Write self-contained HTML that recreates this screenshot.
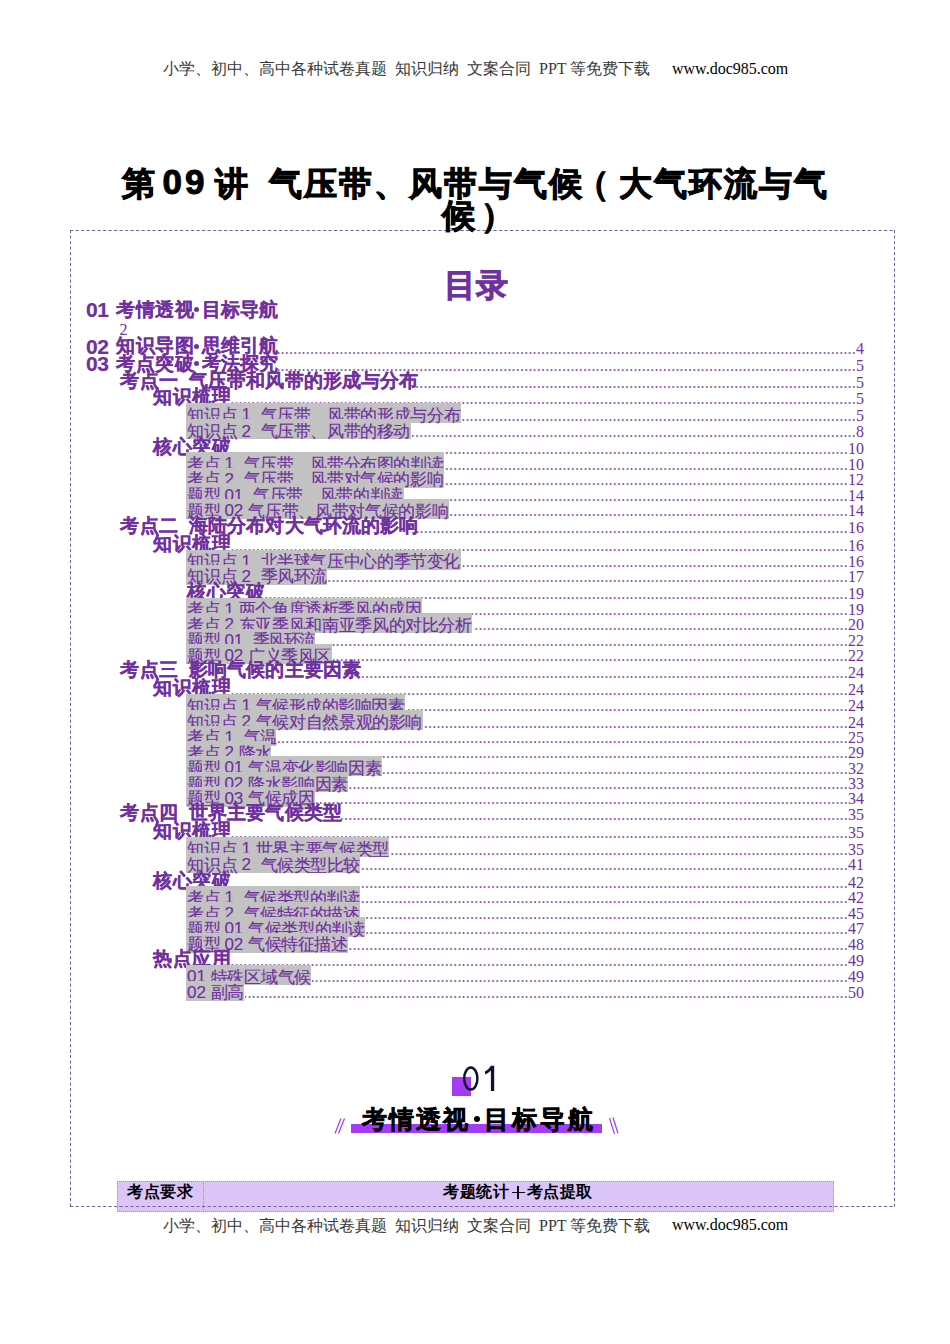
<!DOCTYPE html>
<html><head><meta charset="utf-8"><style>
html,body{margin:0;padding:0;background:#fff;width:950px;height:1344px;overflow:hidden;position:relative}
.t{position:absolute;white-space:pre;font-family:'Liberation Sans',sans-serif}
.g{position:absolute;background:#c2c2c2}
.d{position:absolute;overflow:hidden;white-space:nowrap;direction:rtl;font-family:'Liberation Serif',serif;font-size:16px;line-height:16px;color:#8658b0;height:18px;letter-spacing:0.2px}
.n{position:absolute;font-family:'Liberation Serif',serif;font-size:16px;line-height:16px;color:#7030a0;white-space:pre}
.tb{font-weight:bold;-webkit-text-stroke:1px #000;z-index:2}
.bs{-webkit-text-stroke:0.2px #7030a0}
.rs{-webkit-text-stroke:0.15px #7030a0}
.bk{-webkit-text-stroke:0.6px #000}
.dot{position:absolute;width:5px;height:5px;border-radius:50%;background:#7030a0}
.hdr{position:absolute;white-space:pre;font-family:'Liberation Serif',serif;font-size:16px;line-height:16px;color:#383838}
</style></head><body>
<div class="hdr" style="left:163px;top:61px">小学、初中、高中各种试卷真题&nbsp; 知识归纳&nbsp; 文案合同&nbsp; PPT 等免费下载</div>
<div class="hdr" style="left:672px;top:60.5px;color:#000">www.doc985.com</div>
<div class="t tb" style="left:121.5px;top:166.5px;font-size:33px;line-height:33px;color:#000">第</div>
<div class="t tb" style="left:162.5px;top:164px;font-size:35px;line-height:35px;color:#000;letter-spacing:3px">09</div>
<div class="t tb" style="left:214.5px;top:166.5px;font-size:33px;line-height:33px;color:#000">讲</div>
<div class="t tb" style="left:268.5px;top:166.5px;font-size:33px;line-height:33px;color:#000;letter-spacing:2px">气压带、风带与气候</div>
<div class="t tb" style="left:576px;top:166.5px;font-size:33px;line-height:33px;color:#000">（</div>
<div class="t tb" style="left:619px;top:166.5px;font-size:33px;line-height:33px;color:#000;letter-spacing:2px">大气环流与气</div>
<div class="t tb" style="left:441.5px;top:198.5px;font-size:33px;line-height:33px;color:#000">候</div>
<div class="t tb" style="left:481px;top:198.5px;font-size:33px;line-height:33px;color:#000">）</div>
<div class="t" style="left:444px;top:269px;font-size:32px;line-height:32px;font-weight:bold;color:#7030a0;-webkit-text-stroke:0.8px #7030a0">目录</div>
<div class="t bs" style="left:86.0px;top:298.8px;font-size:21px;line-height:21px;font-weight:bold;color:#7030a0;font-family:'Liberation Sans',sans-serif;letter-spacing:-0.5px">01</div>
<div class="t bs" style="left:116.0px;top:301.0px;font-size:18.5px;line-height:18.5px;font-weight:bold;color:#7030a0;font-family:'Liberation Sans',sans-serif;letter-spacing:0.5px;">考情透视</div>
<div class="dot" style="left:193.7px;top:307.2px"></div>
<div class="t bs" style="left:201.5px;top:300.5px;font-size:18.5px;line-height:18.5px;font-weight:bold;color:#7030a0;font-family:'Liberation Sans',sans-serif;letter-spacing:0;">目标导航</div>
<div class="n" style="left:119.5px;top:322px">2</div>
<div class="t bs" style="left:86.0px;top:335.6px;font-size:21px;line-height:21px;font-weight:bold;color:#7030a0;font-family:'Liberation Sans',sans-serif;letter-spacing:-0.5px">02</div>
<div class="t bs" style="left:116.0px;top:337.3px;font-size:18.5px;line-height:18.5px;font-weight:bold;color:#7030a0;font-family:'Liberation Sans',sans-serif;letter-spacing:0.5px;">知识导图</div>
<div class="dot" style="left:193.7px;top:344.0px"></div>
<div class="t bs" style="left:201.5px;top:337.3px;font-size:18.5px;line-height:18.5px;font-weight:bold;color:#7030a0;font-family:'Liberation Sans',sans-serif;letter-spacing:0;">思维引航</div>
<div class="d" style="left:278.0px;top:340.5px;width:578.0px">........................................................................................................................................................................................................</div><div class="n" style="left:856.0px;top:340.5px">4</div>
<div class="t bs" style="left:86.0px;top:352.8px;font-size:21px;line-height:21px;font-weight:bold;color:#7030a0;font-family:'Liberation Sans',sans-serif;letter-spacing:-0.5px">03</div>
<div class="t bs" style="left:116.0px;top:354.5px;font-size:18.5px;line-height:18.5px;font-weight:bold;color:#7030a0;font-family:'Liberation Sans',sans-serif;letter-spacing:0.5px;">考点突破</div>
<div class="dot" style="left:193.7px;top:361.2px"></div>
<div class="t bs" style="left:201.5px;top:354.5px;font-size:18.5px;line-height:18.5px;font-weight:bold;color:#7030a0;font-family:'Liberation Sans',sans-serif;letter-spacing:0;">考法探究</div>
<div class="d" style="left:278.0px;top:357.7px;width:578.0px">........................................................................................................................................................................................................</div><div class="n" style="left:856.0px;top:357.7px">5</div>
<div class="t bs" style="left:120.0px;top:371.5px;font-size:18.5px;line-height:18.5px;font-weight:bold;color:#7030a0;font-family:'Liberation Sans',sans-serif;letter-spacing:0.5px;">考点一</div>
<div class="t bs" style="left:188.8px;top:371.5px;font-size:18.5px;line-height:18.5px;font-weight:bold;color:#7030a0;font-family:'Liberation Sans',sans-serif;letter-spacing:0.15px;">气压带和风带的形成与分布</div>
<div class="d" style="left:413.6px;top:374.7px;width:442.4px">........................................................................................................................................................................................................</div><div class="n" style="left:856.0px;top:374.7px">5</div>
<div class="t bs" style="left:153.0px;top:388.2px;font-size:18.5px;line-height:18.5px;font-weight:bold;color:#7030a0;font-family:'Liberation Sans',sans-serif;letter-spacing:0.5px;">知识梳理</div>
<div class="d" style="left:230.0px;top:391.4px;width:626.0px">........................................................................................................................................................................................................</div><div class="n" style="left:856.0px;top:391.4px">5</div>
<div class="g" style="left:186px;top:403.2px;width:275.0px;height:20.0px"></div>
<div class="t rs" style="left:187.0px;top:406.8px;font-size:17px;line-height:17px;color:#7030a0;font-family:'Liberation Sans',sans-serif;">知识点</div>
<div class="t rs" style="left:241.4px;top:406.3px;font-size:17px;line-height:17px;color:#7030a0;font-family:'Liberation Sans',sans-serif;">1</div>
<div class="t rs" style="left:260.6px;top:406.8px;font-size:17px;line-height:17px;color:#7030a0;font-family:'Liberation Sans',sans-serif;letter-spacing:-0.35px">气压带、风带的形成与分布</div>
<div class="d" style="left:462.0px;top:407.5px;width:394.0px">........................................................................................................................................................................................................</div><div class="n" style="left:856.0px;top:407.5px">5</div>
<div class="g" style="left:186px;top:419.4px;width:224.5px;height:20.0px"></div>
<div class="t rs" style="left:187.0px;top:423.0px;font-size:17px;line-height:17px;color:#7030a0;font-family:'Liberation Sans',sans-serif;">知识点</div>
<div class="t rs" style="left:241.4px;top:422.5px;font-size:17px;line-height:17px;color:#7030a0;font-family:'Liberation Sans',sans-serif;">2</div>
<div class="t rs" style="left:260.6px;top:423.0px;font-size:17px;line-height:17px;color:#7030a0;font-family:'Liberation Sans',sans-serif;letter-spacing:-0.41px">气压带、风带的移动</div>
<div class="d" style="left:411.5px;top:423.7px;width:444.5px">........................................................................................................................................................................................................</div><div class="n" style="left:856.0px;top:423.7px">8</div>
<div class="t bs" style="left:153.0px;top:437.7px;font-size:18.5px;line-height:18.5px;font-weight:bold;color:#7030a0;font-family:'Liberation Sans',sans-serif;letter-spacing:0.5px;">核心突破</div>
<div class="d" style="left:230.0px;top:440.9px;width:618.0px">........................................................................................................................................................................................................</div><div class="n" style="left:848.0px;top:440.9px">10</div>
<div class="g" style="left:186px;top:452.2px;width:257.8px;height:20.0px"></div>
<div class="t rs" style="left:187.0px;top:455.8px;font-size:17px;line-height:17px;color:#7030a0;font-family:'Liberation Sans',sans-serif;">考点</div>
<div class="t rs" style="left:224.4px;top:455.3px;font-size:17px;line-height:17px;color:#7030a0;font-family:'Liberation Sans',sans-serif;">1</div>
<div class="t rs" style="left:243.7px;top:455.8px;font-size:17px;line-height:17px;color:#7030a0;font-family:'Liberation Sans',sans-serif;letter-spacing:-0.36px">气压带、风带分布图的判读</div>
<div class="d" style="left:444.8px;top:456.5px;width:403.2px">........................................................................................................................................................................................................</div><div class="n" style="left:848.0px;top:456.5px">10</div>
<div class="g" style="left:186px;top:467.8px;width:257.8px;height:20.0px"></div>
<div class="t rs" style="left:187.0px;top:471.4px;font-size:17px;line-height:17px;color:#7030a0;font-family:'Liberation Sans',sans-serif;">考点</div>
<div class="t rs" style="left:224.4px;top:470.9px;font-size:17px;line-height:17px;color:#7030a0;font-family:'Liberation Sans',sans-serif;">2</div>
<div class="t rs" style="left:243.7px;top:471.4px;font-size:17px;line-height:17px;color:#7030a0;font-family:'Liberation Sans',sans-serif;letter-spacing:-0.36px">气压带、风带对气候的影响</div>
<div class="d" style="left:444.8px;top:472.1px;width:403.2px">........................................................................................................................................................................................................</div><div class="n" style="left:848.0px;top:472.1px">12</div>
<div class="g" style="left:186px;top:483.4px;width:217.6px;height:20.0px"></div>
<div class="t rs" style="left:187.0px;top:487.0px;font-size:17px;line-height:17px;color:#7030a0;font-family:'Liberation Sans',sans-serif;">题型</div>
<div class="t rs" style="left:224.4px;top:486.5px;font-size:17px;line-height:17px;color:#7030a0;font-family:'Liberation Sans',sans-serif;">01</div>
<div class="t rs" style="left:253.1px;top:487.0px;font-size:17px;line-height:17px;color:#7030a0;font-family:'Liberation Sans',sans-serif;letter-spacing:-0.33px">气压带、风带的判读</div>
<div class="d" style="left:404.6px;top:487.7px;width:443.4px">........................................................................................................................................................................................................</div><div class="n" style="left:848.0px;top:487.7px">14</div>
<div class="g" style="left:186px;top:499.1px;width:263.0px;height:20.0px"></div>
<div class="t rs" style="left:187.0px;top:502.7px;font-size:17px;line-height:17px;color:#7030a0;font-family:'Liberation Sans',sans-serif;">题型</div>
<div class="t rs" style="left:224.4px;top:502.2px;font-size:17px;line-height:17px;color:#7030a0;font-family:'Liberation Sans',sans-serif;">02</div>
<div class="t rs" style="left:248.2px;top:502.7px;font-size:17px;line-height:17px;color:#7030a0;font-family:'Liberation Sans',sans-serif;letter-spacing:-0.31px">气压带、风带对气候的影响</div>
<div class="d" style="left:450.0px;top:503.4px;width:398.0px">........................................................................................................................................................................................................</div><div class="n" style="left:848.0px;top:503.4px">14</div>
<div class="t bs" style="left:120.0px;top:516.7px;font-size:18.5px;line-height:18.5px;font-weight:bold;color:#7030a0;font-family:'Liberation Sans',sans-serif;letter-spacing:0.5px;">考点二</div>
<div class="t bs" style="left:188.8px;top:516.7px;font-size:18.5px;line-height:18.5px;font-weight:bold;color:#7030a0;font-family:'Liberation Sans',sans-serif;letter-spacing:0.15px;">海陆分布对大气环流的影响</div>
<div class="d" style="left:413.6px;top:519.9px;width:434.4px">........................................................................................................................................................................................................</div><div class="n" style="left:848.0px;top:519.9px">16</div>
<div class="t bs" style="left:153.0px;top:535.0px;font-size:18.5px;line-height:18.5px;font-weight:bold;color:#7030a0;font-family:'Liberation Sans',sans-serif;letter-spacing:0.5px;">知识梳理</div>
<div class="d" style="left:230.0px;top:538.2px;width:618.0px">........................................................................................................................................................................................................</div><div class="n" style="left:848.0px;top:538.2px">16</div>
<div class="g" style="left:186px;top:549.5px;width:274.6px;height:20.0px"></div>
<div class="t rs" style="left:187.0px;top:553.1px;font-size:17px;line-height:17px;color:#7030a0;font-family:'Liberation Sans',sans-serif;">知识点</div>
<div class="t rs" style="left:241.4px;top:552.6px;font-size:17px;line-height:17px;color:#7030a0;font-family:'Liberation Sans',sans-serif;">1</div>
<div class="t rs" style="left:260.6px;top:553.1px;font-size:17px;line-height:17px;color:#7030a0;font-family:'Liberation Sans',sans-serif;letter-spacing:-0.38px">北半球气压中心的季节变化</div>
<div class="d" style="left:461.6px;top:553.8px;width:386.4px">........................................................................................................................................................................................................</div><div class="n" style="left:848.0px;top:553.8px">16</div>
<div class="g" style="left:186px;top:564.7px;width:141.0px;height:20.0px"></div>
<div class="t rs" style="left:187.0px;top:568.3px;font-size:17px;line-height:17px;color:#7030a0;font-family:'Liberation Sans',sans-serif;">知识点</div>
<div class="t rs" style="left:241.4px;top:567.8px;font-size:17px;line-height:17px;color:#7030a0;font-family:'Liberation Sans',sans-serif;">2</div>
<div class="t rs" style="left:260.6px;top:568.3px;font-size:17px;line-height:17px;color:#7030a0;font-family:'Liberation Sans',sans-serif;letter-spacing:-0.54px">季风环流</div>
<div class="d" style="left:328.0px;top:569.0px;width:520.0px">........................................................................................................................................................................................................</div><div class="n" style="left:848.0px;top:569.0px">17</div>
<div class="t bs" style="left:187.0px;top:582.5px;font-size:18.5px;line-height:18.5px;font-weight:bold;color:#7030a0;font-family:'Liberation Sans',sans-serif;letter-spacing:0.5px;">核心突破</div>
<div class="d" style="left:264.0px;top:585.7px;width:584.0px">........................................................................................................................................................................................................</div><div class="n" style="left:848.0px;top:585.7px">19</div>
<div class="g" style="left:186px;top:597.8px;width:235.7px;height:20.0px"></div>
<div class="t rs" style="left:187.0px;top:601.4px;font-size:17px;line-height:17px;color:#7030a0;font-family:'Liberation Sans',sans-serif;">考点</div>
<div class="t rs" style="left:224.4px;top:600.9px;font-size:17px;line-height:17px;color:#7030a0;font-family:'Liberation Sans',sans-serif;">1</div>
<div class="t rs" style="left:238.8px;top:601.4px;font-size:17px;line-height:17px;color:#7030a0;font-family:'Liberation Sans',sans-serif;letter-spacing:-0.41px">两个角度透析季风的成因</div>
<div class="d" style="left:422.7px;top:602.1px;width:425.3px">........................................................................................................................................................................................................</div><div class="n" style="left:848.0px;top:602.1px">19</div>
<div class="g" style="left:186px;top:613.1px;width:286.2px;height:20.0px"></div>
<div class="t rs" style="left:187.0px;top:616.7px;font-size:17px;line-height:17px;color:#7030a0;font-family:'Liberation Sans',sans-serif;">考点</div>
<div class="t rs" style="left:224.4px;top:616.2px;font-size:17px;line-height:17px;color:#7030a0;font-family:'Liberation Sans',sans-serif;">2</div>
<div class="t rs" style="left:238.8px;top:616.7px;font-size:17px;line-height:17px;color:#7030a0;font-family:'Liberation Sans',sans-serif;letter-spacing:-0.36px">东亚季风和南亚季风的对比分析</div>
<div class="d" style="left:473.2px;top:617.4px;width:374.8px">........................................................................................................................................................................................................</div><div class="n" style="left:848.0px;top:617.4px">20</div>
<div class="g" style="left:186px;top:628.6px;width:128.7px;height:20.0px"></div>
<div class="t rs" style="left:187.0px;top:632.2px;font-size:17px;line-height:17px;color:#7030a0;font-family:'Liberation Sans',sans-serif;">题型</div>
<div class="t rs" style="left:224.4px;top:631.7px;font-size:17px;line-height:17px;color:#7030a0;font-family:'Liberation Sans',sans-serif;">01</div>
<div class="t rs" style="left:253.1px;top:632.2px;font-size:17px;line-height:17px;color:#7030a0;font-family:'Liberation Sans',sans-serif;letter-spacing:-1.73px">季风环流</div>
<div class="d" style="left:315.7px;top:632.9px;width:532.3px">........................................................................................................................................................................................................</div><div class="n" style="left:848.0px;top:632.9px">22</div>
<div class="g" style="left:186px;top:643.9px;width:145.5px;height:20.0px"></div>
<div class="t rs" style="left:187.0px;top:647.5px;font-size:17px;line-height:17px;color:#7030a0;font-family:'Liberation Sans',sans-serif;">题型</div>
<div class="t rs" style="left:224.4px;top:647.0px;font-size:17px;line-height:17px;color:#7030a0;font-family:'Liberation Sans',sans-serif;">02</div>
<div class="t rs" style="left:248.2px;top:647.5px;font-size:17px;line-height:17px;color:#7030a0;font-family:'Liberation Sans',sans-serif;letter-spacing:-0.44px">广义季风区</div>
<div class="d" style="left:332.5px;top:648.2px;width:515.5px">........................................................................................................................................................................................................</div><div class="n" style="left:848.0px;top:648.2px">22</div>
<div class="t bs" style="left:120.0px;top:661.4px;font-size:18.5px;line-height:18.5px;font-weight:bold;color:#7030a0;font-family:'Liberation Sans',sans-serif;letter-spacing:0.5px;">考点三</div>
<div class="t bs" style="left:188.8px;top:661.4px;font-size:18.5px;line-height:18.5px;font-weight:bold;color:#7030a0;font-family:'Liberation Sans',sans-serif;letter-spacing:0.15px;">影响气候的主要因素</div>
<div class="d" style="left:357.6px;top:664.6px;width:490.4px">........................................................................................................................................................................................................</div><div class="n" style="left:848.0px;top:664.6px">24</div>
<div class="t bs" style="left:153.0px;top:678.5px;font-size:18.5px;line-height:18.5px;font-weight:bold;color:#7030a0;font-family:'Liberation Sans',sans-serif;letter-spacing:0.5px;">知识梳理</div>
<div class="d" style="left:230.0px;top:681.7px;width:618.0px">........................................................................................................................................................................................................</div><div class="n" style="left:848.0px;top:681.7px">24</div>
<div class="g" style="left:186px;top:694.1px;width:218.7px;height:20.0px"></div>
<div class="t rs" style="left:187.0px;top:697.7px;font-size:17px;line-height:17px;color:#7030a0;font-family:'Liberation Sans',sans-serif;">知识点</div>
<div class="t rs" style="left:241.4px;top:697.2px;font-size:17px;line-height:17px;color:#7030a0;font-family:'Liberation Sans',sans-serif;">1</div>
<div class="t rs" style="left:255.8px;top:697.7px;font-size:17px;line-height:17px;color:#7030a0;font-family:'Liberation Sans',sans-serif;letter-spacing:-0.51px">气候形成的影响因素</div>
<div class="d" style="left:405.7px;top:698.4px;width:442.3px">........................................................................................................................................................................................................</div><div class="n" style="left:848.0px;top:698.4px">24</div>
<div class="g" style="left:186px;top:710.2px;width:236.5px;height:20.0px"></div>
<div class="t rs" style="left:187.0px;top:713.8px;font-size:17px;line-height:17px;color:#7030a0;font-family:'Liberation Sans',sans-serif;">知识点</div>
<div class="t rs" style="left:241.4px;top:713.3px;font-size:17px;line-height:17px;color:#7030a0;font-family:'Liberation Sans',sans-serif;">2</div>
<div class="t rs" style="left:255.8px;top:713.8px;font-size:17px;line-height:17px;color:#7030a0;font-family:'Liberation Sans',sans-serif;letter-spacing:-0.38px">气候对自然景观的影响</div>
<div class="d" style="left:423.5px;top:714.5px;width:424.5px">........................................................................................................................................................................................................</div><div class="n" style="left:848.0px;top:714.5px">24</div>
<div class="g" style="left:186px;top:725.8px;width:90.0px;height:20.0px"></div>
<div class="t rs" style="left:187.0px;top:729.4px;font-size:17px;line-height:17px;color:#7030a0;font-family:'Liberation Sans',sans-serif;">考点</div>
<div class="t rs" style="left:224.4px;top:728.9px;font-size:17px;line-height:17px;color:#7030a0;font-family:'Liberation Sans',sans-serif;">1</div>
<div class="t rs" style="left:243.7px;top:729.4px;font-size:17px;line-height:17px;color:#7030a0;font-family:'Liberation Sans',sans-serif;letter-spacing:-1.08px">气温</div>
<div class="d" style="left:277.0px;top:730.1px;width:571.0px">........................................................................................................................................................................................................</div><div class="n" style="left:848.0px;top:730.1px">25</div>
<div class="g" style="left:186px;top:741.1px;width:84.8px;height:20.0px"></div>
<div class="t rs" style="left:187.0px;top:744.7px;font-size:17px;line-height:17px;color:#7030a0;font-family:'Liberation Sans',sans-serif;">考点</div>
<div class="t rs" style="left:224.4px;top:744.2px;font-size:17px;line-height:17px;color:#7030a0;font-family:'Liberation Sans',sans-serif;">2</div>
<div class="t rs" style="left:238.8px;top:744.7px;font-size:17px;line-height:17px;color:#7030a0;font-family:'Liberation Sans',sans-serif;letter-spacing:-1.22px">降水</div>
<div class="d" style="left:271.8px;top:745.4px;width:576.2px">........................................................................................................................................................................................................</div><div class="n" style="left:848.0px;top:745.4px">29</div>
<div class="g" style="left:186px;top:756.3px;width:196.0px;height:20.0px"></div>
<div class="t rs" style="left:187.0px;top:759.9px;font-size:17px;line-height:17px;color:#7030a0;font-family:'Liberation Sans',sans-serif;">题型</div>
<div class="t rs" style="left:224.4px;top:759.4px;font-size:17px;line-height:17px;color:#7030a0;font-family:'Liberation Sans',sans-serif;">01</div>
<div class="t rs" style="left:248.2px;top:759.9px;font-size:17px;line-height:17px;color:#7030a0;font-family:'Liberation Sans',sans-serif;letter-spacing:-0.34px">气温变化影响因素</div>
<div class="d" style="left:383.0px;top:760.6px;width:465.0px">........................................................................................................................................................................................................</div><div class="n" style="left:848.0px;top:760.6px">32</div>
<div class="g" style="left:186px;top:771.9px;width:162.4px;height:20.0px"></div>
<div class="t rs" style="left:187.0px;top:775.5px;font-size:17px;line-height:17px;color:#7030a0;font-family:'Liberation Sans',sans-serif;">题型</div>
<div class="t rs" style="left:224.4px;top:775.0px;font-size:17px;line-height:17px;color:#7030a0;font-family:'Liberation Sans',sans-serif;">02</div>
<div class="t rs" style="left:248.2px;top:775.5px;font-size:17px;line-height:17px;color:#7030a0;font-family:'Liberation Sans',sans-serif;letter-spacing:-0.38px">降水影响因素</div>
<div class="d" style="left:349.4px;top:776.2px;width:498.6px">........................................................................................................................................................................................................</div><div class="n" style="left:848.0px;top:776.2px">33</div>
<div class="g" style="left:186px;top:786.7px;width:128.8px;height:20.0px"></div>
<div class="t rs" style="left:187.0px;top:790.3px;font-size:17px;line-height:17px;color:#7030a0;font-family:'Liberation Sans',sans-serif;">题型</div>
<div class="t rs" style="left:224.4px;top:789.8px;font-size:17px;line-height:17px;color:#7030a0;font-family:'Liberation Sans',sans-serif;">03</div>
<div class="t rs" style="left:248.2px;top:790.3px;font-size:17px;line-height:17px;color:#7030a0;font-family:'Liberation Sans',sans-serif;letter-spacing:-0.47px">气候成因</div>
<div class="d" style="left:315.8px;top:791.0px;width:532.2px">........................................................................................................................................................................................................</div><div class="n" style="left:848.0px;top:791.0px">34</div>
<div class="t bs" style="left:120.0px;top:804.2px;font-size:18.5px;line-height:18.5px;font-weight:bold;color:#7030a0;font-family:'Liberation Sans',sans-serif;letter-spacing:0.5px;">考点四</div>
<div class="t bs" style="left:188.8px;top:804.2px;font-size:18.5px;line-height:18.5px;font-weight:bold;color:#7030a0;font-family:'Liberation Sans',sans-serif;letter-spacing:0.15px;">世界主要气候类型</div>
<div class="d" style="left:339.0px;top:807.4px;width:509.0px">........................................................................................................................................................................................................</div><div class="n" style="left:848.0px;top:807.4px">35</div>
<div class="t bs" style="left:153.0px;top:822.0px;font-size:18.5px;line-height:18.5px;font-weight:bold;color:#7030a0;font-family:'Liberation Sans',sans-serif;letter-spacing:0.5px;">知识梳理</div>
<div class="d" style="left:230.0px;top:825.2px;width:618.0px">........................................................................................................................................................................................................</div><div class="n" style="left:848.0px;top:825.2px">35</div>
<div class="g" style="left:186px;top:837.3px;width:203.2px;height:20.0px"></div>
<div class="t rs" style="left:187.0px;top:840.9px;font-size:17px;line-height:17px;color:#7030a0;font-family:'Liberation Sans',sans-serif;">知识点</div>
<div class="t rs" style="left:241.4px;top:840.4px;font-size:17px;line-height:17px;color:#7030a0;font-family:'Liberation Sans',sans-serif;">1</div>
<div class="t rs" style="left:255.8px;top:840.9px;font-size:17px;line-height:17px;color:#7030a0;font-family:'Liberation Sans',sans-serif;letter-spacing:-0.38px">世界主要气候类型</div>
<div class="d" style="left:390.2px;top:841.6px;width:457.8px">........................................................................................................................................................................................................</div><div class="n" style="left:848.0px;top:841.6px">35</div>
<div class="g" style="left:186px;top:853.0px;width:174.1px;height:20.0px"></div>
<div class="t rs" style="left:187.0px;top:856.6px;font-size:17px;line-height:17px;color:#7030a0;font-family:'Liberation Sans',sans-serif;">知识点</div>
<div class="t rs" style="left:241.4px;top:856.1px;font-size:17px;line-height:17px;color:#7030a0;font-family:'Liberation Sans',sans-serif;">2</div>
<div class="t rs" style="left:260.6px;top:856.6px;font-size:17px;line-height:17px;color:#7030a0;font-family:'Liberation Sans',sans-serif;letter-spacing:-0.51px">气候类型比较</div>
<div class="d" style="left:361.1px;top:857.3px;width:486.9px">........................................................................................................................................................................................................</div><div class="n" style="left:848.0px;top:857.3px">41</div>
<div class="t bs" style="left:153.0px;top:871.5px;font-size:18.5px;line-height:18.5px;font-weight:bold;color:#7030a0;font-family:'Liberation Sans',sans-serif;letter-spacing:0.5px;">核心突破</div>
<div class="d" style="left:230.0px;top:874.7px;width:618.0px">........................................................................................................................................................................................................</div><div class="n" style="left:848.0px;top:874.7px">42</div>
<div class="g" style="left:186px;top:886.1px;width:174.1px;height:20.0px"></div>
<div class="t rs" style="left:187.0px;top:889.7px;font-size:17px;line-height:17px;color:#7030a0;font-family:'Liberation Sans',sans-serif;">考点</div>
<div class="t rs" style="left:224.4px;top:889.2px;font-size:17px;line-height:17px;color:#7030a0;font-family:'Liberation Sans',sans-serif;">1</div>
<div class="t rs" style="left:243.7px;top:889.7px;font-size:17px;line-height:17px;color:#7030a0;font-family:'Liberation Sans',sans-serif;letter-spacing:-0.44px">气候类型的判读</div>
<div class="d" style="left:361.1px;top:890.4px;width:486.9px">........................................................................................................................................................................................................</div><div class="n" style="left:848.0px;top:890.4px">42</div>
<div class="g" style="left:186px;top:902.0px;width:174.1px;height:20.0px"></div>
<div class="t rs" style="left:187.0px;top:905.6px;font-size:17px;line-height:17px;color:#7030a0;font-family:'Liberation Sans',sans-serif;">考点</div>
<div class="t rs" style="left:224.4px;top:905.1px;font-size:17px;line-height:17px;color:#7030a0;font-family:'Liberation Sans',sans-serif;">2</div>
<div class="t rs" style="left:243.7px;top:905.6px;font-size:17px;line-height:17px;color:#7030a0;font-family:'Liberation Sans',sans-serif;letter-spacing:-0.44px">气候特征的描述</div>
<div class="d" style="left:361.1px;top:906.3px;width:486.9px">........................................................................................................................................................................................................</div><div class="n" style="left:848.0px;top:906.3px">45</div>
<div class="g" style="left:186px;top:917.0px;width:179.0px;height:20.0px"></div>
<div class="t rs" style="left:187.0px;top:920.6px;font-size:17px;line-height:17px;color:#7030a0;font-family:'Liberation Sans',sans-serif;">题型</div>
<div class="t rs" style="left:224.4px;top:920.1px;font-size:17px;line-height:17px;color:#7030a0;font-family:'Liberation Sans',sans-serif;">01</div>
<div class="t rs" style="left:248.2px;top:920.6px;font-size:17px;line-height:17px;color:#7030a0;font-family:'Liberation Sans',sans-serif;letter-spacing:-0.39px">气候类型的判读</div>
<div class="d" style="left:366.0px;top:921.3px;width:482.0px">........................................................................................................................................................................................................</div><div class="n" style="left:848.0px;top:921.3px">47</div>
<div class="g" style="left:186px;top:932.7px;width:162.0px;height:20.0px"></div>
<div class="t rs" style="left:187.0px;top:936.3px;font-size:17px;line-height:17px;color:#7030a0;font-family:'Liberation Sans',sans-serif;">题型</div>
<div class="t rs" style="left:224.4px;top:935.8px;font-size:17px;line-height:17px;color:#7030a0;font-family:'Liberation Sans',sans-serif;">02</div>
<div class="t rs" style="left:248.2px;top:936.3px;font-size:17px;line-height:17px;color:#7030a0;font-family:'Liberation Sans',sans-serif;letter-spacing:-0.45px">气候特征描述</div>
<div class="d" style="left:349.0px;top:937.0px;width:499.0px">........................................................................................................................................................................................................</div><div class="n" style="left:848.0px;top:937.0px">48</div>
<div class="t bs" style="left:153.0px;top:949.9px;font-size:18.5px;line-height:18.5px;font-weight:bold;color:#7030a0;font-family:'Liberation Sans',sans-serif;letter-spacing:0.5px;">热点应用</div>
<div class="d" style="left:230.0px;top:953.1px;width:618.0px">........................................................................................................................................................................................................</div><div class="n" style="left:848.0px;top:953.1px">49</div>
<div class="g" style="left:186px;top:965.0px;width:125.4px;height:20.0px"></div>
<div class="t rs" style="left:187.0px;top:968.1px;font-size:17px;line-height:17px;color:#7030a0;font-family:'Liberation Sans',sans-serif;">01</div>
<div class="t rs" style="left:210.8px;top:968.6px;font-size:17px;line-height:17px;color:#7030a0;font-family:'Liberation Sans',sans-serif;letter-spacing:-0.32px">特殊区域气候</div>
<div class="d" style="left:312.4px;top:969.3px;width:535.6px">........................................................................................................................................................................................................</div><div class="n" style="left:848.0px;top:969.3px">49</div>
<div class="g" style="left:186px;top:980.6px;width:58.4px;height:20.0px"></div>
<div class="t rs" style="left:187.0px;top:983.7px;font-size:17px;line-height:17px;color:#7030a0;font-family:'Liberation Sans',sans-serif;">02</div>
<div class="t rs" style="left:210.8px;top:984.2px;font-size:17px;line-height:17px;color:#7030a0;font-family:'Liberation Sans',sans-serif;letter-spacing:-0.45px">副高</div>
<div class="d" style="left:245.4px;top:984.9px;width:602.6px">........................................................................................................................................................................................................</div><div class="n" style="left:848.0px;top:984.9px">50</div>
<div style="position:absolute;left:452px;top:1077px;width:18.5px;height:18.7px;background:#a43cf6"></div>
<svg style="position:absolute;left:455px;top:1060px" width="45" height="35" viewBox="455 1060 45 35"><ellipse cx="470.8" cy="1078.55" rx="6.6" ry="11.05" fill="none" stroke="#12122a" stroke-width="2.5"/><path d="M490.9 1065.8 L494.2 1065.8 L494.2 1090.9 L490.9 1090.9 L490.9 1070.6 Q488.5 1073.2 485 1074.6 L485 1071.6 Q489 1069.5 490.9 1065.8 Z" fill="#12122a"/></svg>
<div style="position:absolute;left:351px;top:1124.2px;width:251px;height:9.3px;background:#a43cf6"></div>
<div class="t bk" style="left:361.5px;top:1106.5px;font-size:25px;line-height:25px;font-weight:bold;color:#000;letter-spacing:2.3px">考情透视</div>
<div style="position:absolute;left:473.6px;top:1116px;width:6px;height:6px;border-radius:50%;background:#000"></div>
<div class="t bk" style="left:483.8px;top:1106.5px;font-size:25px;line-height:25px;font-weight:bold;color:#000;letter-spacing:3.2px">目标导航</div>
<svg style="position:absolute;left:330px;top:1115px" width="20" height="22"><line x1="5" y1="18.5" x2="11" y2="3.5" stroke="#a43cf6" stroke-width="1.2"/><line x1="8.5" y1="18.5" x2="14.5" y2="3.5" stroke="#a43cf6" stroke-width="1.2"/></svg>
<svg style="position:absolute;left:605px;top:1115px" width="20" height="22"><line x1="4.5" y1="3" x2="9.5" y2="19" stroke="#a43cf6" stroke-width="1.2"/><line x1="8" y1="2.5" x2="13" y2="18.5" stroke="#a43cf6" stroke-width="1.2"/></svg>
<div style="position:absolute;left:116.5px;top:1180.5px;width:715px;height:29px;background:#dbc4f8;border:1px dotted #a090b0"></div>
<div style="position:absolute;left:203px;top:1181px;width:0;height:29px;border-left:1px dotted #a090b0"></div>
<div class="t" style="left:127px;top:1184px;font-size:16px;line-height:16px;font-weight:bold;color:#000;letter-spacing:0.6px">考点要求</div>
<div class="t" style="left:443px;top:1184px;font-size:16px;line-height:16px;font-weight:bold;color:#000;letter-spacing:0.6px">考题统计</div>
<div style="position:absolute;left:511.5px;top:1191.8px;width:13px;height:1.4px;background:#111"></div><div style="position:absolute;left:517.3px;top:1186.3px;width:1.4px;height:12.5px;background:#111"></div>
<div class="t" style="left:526.5px;top:1184px;font-size:16px;line-height:16px;font-weight:bold;color:#000;letter-spacing:0.6px">考点提取</div>
<svg style="position:absolute;left:0;top:0" width="950" height="1344"><g stroke="#76639a" stroke-width="1" stroke-dasharray="3.2 2.3" fill="none"><line x1="70" y1="230.5" x2="895" y2="230.5"/><line x1="70" y1="1206.5" x2="895" y2="1206.5"/><line x1="70.5" y1="230" x2="70.5" y2="1207"/><line x1="894.5" y1="230" x2="894.5" y2="1207"/></g></svg>
<div class="hdr" style="left:163px;top:1217.5px">小学、初中、高中各种试卷真题&nbsp; 知识归纳&nbsp; 文案合同&nbsp; PPT 等免费下载</div>
<div class="hdr" style="left:672px;top:1217px;color:#000">www.doc985.com</div>
</body></html>
